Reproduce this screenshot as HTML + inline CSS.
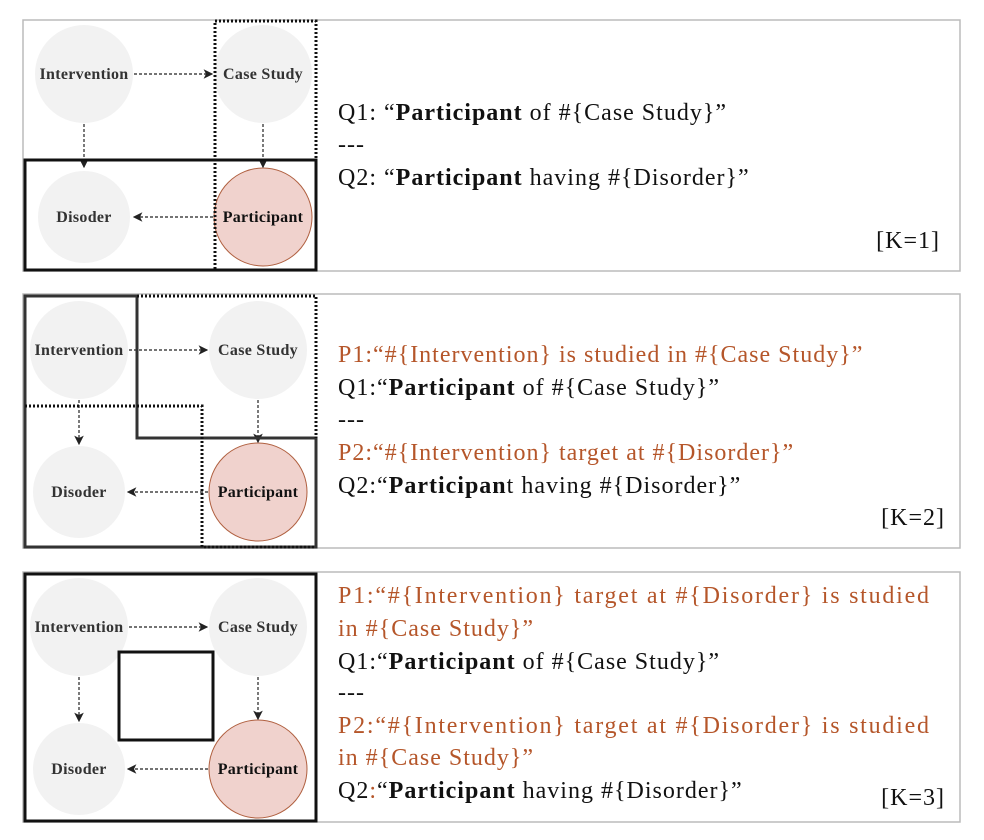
<!DOCTYPE html>
<html><head><meta charset="utf-8"><style>
body{margin:0;background:#fff}
svg{display:block}
.n{font-family:"Liberation Serif",serif;font-weight:bold;font-size:16px;fill:#333;text-anchor:middle;letter-spacing:0.3px}
.t{font-family:"Liberation Serif",serif;font-size:24px;fill:#111;letter-spacing:1px}
.o{fill:#b5562a}
</style></head><body>
<svg width="984" height="840" viewBox="0 0 984 840">
<defs><marker id="ar" markerWidth="8" markerHeight="8" refX="7" refY="4" orient="auto"><path d="M0,0 L8,4 L0,8 L2,4 Z" fill="#222"/></marker></defs>
<g fill="none" stroke="#bbb" stroke-width="1.5">
<rect x="23" y="20" width="937" height="251"/>
<rect x="23" y="294" width="937" height="254"/>
<rect x="23" y="572" width="937" height="250"/>
</g>
<g>
<circle cx="84" cy="74" r="49" fill="#f2f2f2"/><circle cx="263" cy="74" r="49" fill="#f2f2f2"/>
<circle cx="84" cy="217" r="46" fill="#f2f2f2"/><circle cx="263" cy="217" r="49" fill="#f0d2cd" stroke="#b06040"/>
<g stroke="#222" stroke-width="1.2" stroke-dasharray="3,2" marker-end="url(#ar)">
<line x1="134" y1="74" x2="212" y2="74"/><line x1="84" y1="124" x2="84" y2="167"/><line x1="263" y1="124" x2="263" y2="167"/><line x1="213" y1="217" x2="134" y2="217"/></g>
<rect x="25" y="160" width="291" height="110" fill="none" stroke="#111" stroke-width="3"/>
<rect x="215" y="21" width="101" height="249" fill="none" stroke="#111" stroke-width="3" stroke-dasharray="2,2"/>
<text class="n" x="84" y="79">Intervention</text><text class="n" x="263" y="79">Case Study</text>
<text class="n" x="84" y="222">Disoder</text><text class="n" x="263" y="222" style="fill:#111">Participant</text>
</g>
<g>
<text class="t" x="338" y="120">Q1: “<tspan font-weight="bold">Participant</tspan> of #{Case Study}”</text>
<text class="t" x="338" y="152">---</text>
<text class="t" x="338" y="185">Q2: “<tspan font-weight="bold">Participant</tspan> having #{Disorder}”</text>
<text class="t" x="940" y="248" text-anchor="end">[K=1]</text>
</g>
<g>
<circle cx="79" cy="350" r="49" fill="#f2f2f2"/><circle cx="258" cy="350" r="49" fill="#f2f2f2"/>
<circle cx="79" cy="492" r="46" fill="#f2f2f2"/><circle cx="258" cy="492" r="49" fill="#f0d2cd" stroke="#b06040"/>
<g stroke="#222" stroke-width="1.2" stroke-dasharray="3,2" marker-end="url(#ar)">
<line x1="129" y1="350" x2="207" y2="350"/><line x1="79" y1="400" x2="79" y2="444"/><line x1="258" y1="400" x2="258" y2="442"/><line x1="208" y1="492" x2="128" y2="492"/></g>
<path d="M25,296 H137 V438 H316 V547 H25 Z" fill="none" stroke="#333" stroke-width="3"/>
<path d="M137,296 H316 V438 M25,406 H202 V547 H316" fill="none" stroke="#111" stroke-width="3" stroke-dasharray="2,2"/>
<text class="n" x="79" y="355">Intervention</text><text class="n" x="258" y="355">Case Study</text>
<text class="n" x="79" y="497">Disoder</text><text class="n" x="258" y="497" style="fill:#111">Participant</text>
</g>
<g>
<text class="t o" x="338" y="362">P1:“#{Intervention} is studied in #{Case Study}”</text>
<text class="t" x="338" y="395">Q1:“<tspan font-weight="bold">Participant</tspan> of #{Case Study}”</text>
<text class="t" x="338" y="427">---</text>
<text class="t o" x="338" y="460">P2:“#{Intervention} target at #{Disorder}”</text>
<text class="t" x="338" y="493">Q2:“<tspan font-weight="bold">Participan</tspan>t having #{Disorder}”</text>
<text class="t" x="945" y="525" text-anchor="end">[K=2]</text>
</g>
<g>
<circle cx="79" cy="627" r="49" fill="#f2f2f2"/><circle cx="258" cy="627" r="49" fill="#f2f2f2"/>
<circle cx="79" cy="769" r="46" fill="#f2f2f2"/><circle cx="258" cy="769" r="49" fill="#f0d2cd" stroke="#b06040"/>
<g stroke="#222" stroke-width="1.2" stroke-dasharray="3,2" marker-end="url(#ar)">
<line x1="129" y1="627" x2="207" y2="627"/><line x1="79" y1="677" x2="79" y2="721"/><line x1="258" y1="677" x2="258" y2="719"/><line x1="208" y1="769" x2="128" y2="769"/></g>
<rect x="25" y="574" width="291" height="247" fill="none" stroke="#111" stroke-width="3"/>
<rect x="119" y="652" width="94" height="88" fill="none" stroke="#111" stroke-width="3"/>
<text class="n" x="79" y="632">Intervention</text><text class="n" x="258" y="632">Case Study</text>
<text class="n" x="79" y="774">Disoder</text><text class="n" x="258" y="774" style="fill:#111">Participant</text>
</g>
<g>
<text class="t o" x="338" y="603" textLength="592" lengthAdjust="spacing">P1:“#{Intervention} target at #{Disorder} is studied</text>
<text class="t o" x="338" y="636">in #{Case Study}”</text>
<text class="t" x="338" y="669">Q1:“<tspan font-weight="bold">Participant</tspan> of #{Case Study}”</text>
<text class="t" x="338" y="700">---</text>
<text class="t o" x="338" y="733" textLength="592" lengthAdjust="spacing">P2:“#{Intervention} target at #{Disorder} is studied</text>
<text class="t o" x="338" y="765">in #{Case Study}”</text>
<text class="t" x="338" y="798">Q2<tspan class="o">:</tspan>“<tspan font-weight="bold">Participant</tspan> having #{Disorder}”</text>
<text class="t" x="945" y="805" text-anchor="end">[K=3]</text>
</g>
</svg>
</body></html>
